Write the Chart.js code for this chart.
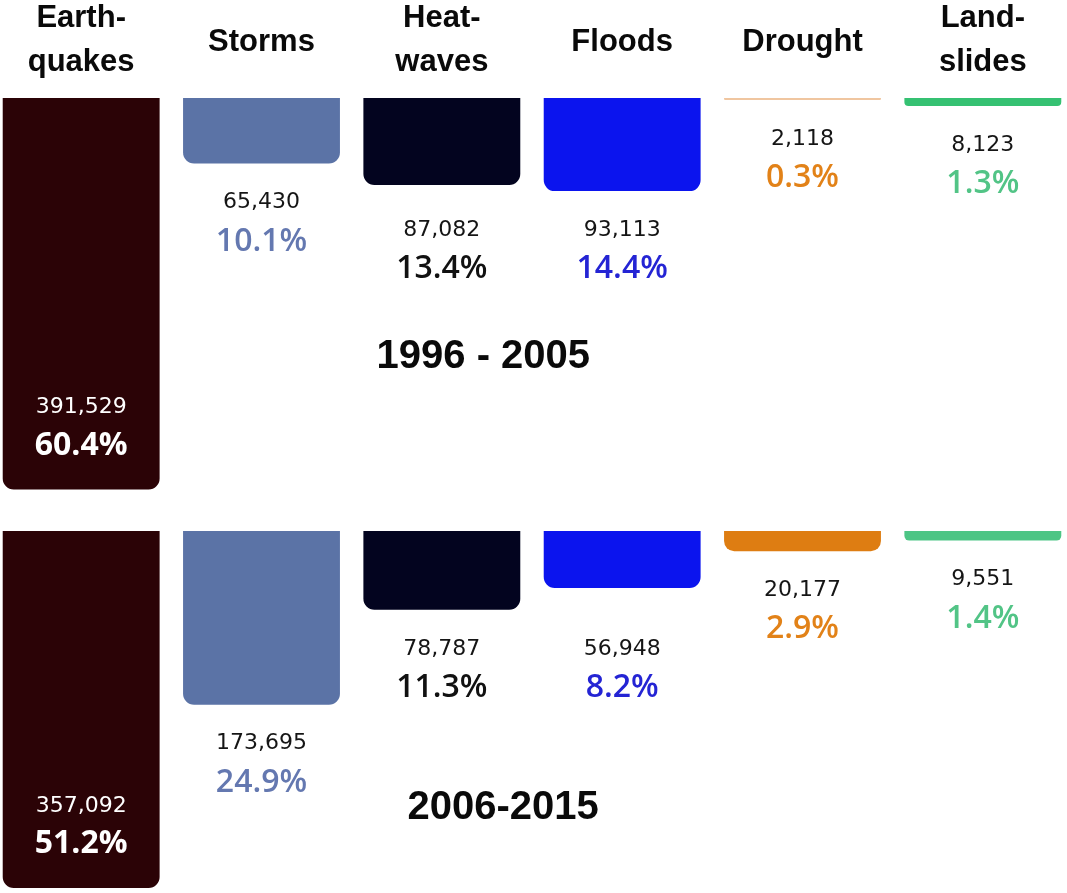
<!DOCTYPE html>
<html>
<head>
<meta charset="utf-8">
<script src="https://cdn.jsdelivr.net/npm/chart.js@4.4.1/dist/chart.umd.min.js"></script>
<style>
  html, body { margin: 0; padding: 0; background: #fff; overflow: hidden; }
  #wrap { position: relative; width: 1067px; height: 893px; overflow: hidden; }
  #deathsChart { position: absolute; left: -9px; top: 0; }
</style>
</head>
<body>
<div id="wrap"><canvas id="deathsChart" width="1082" height="893"></canvas></div>
<script>
/* ===============================
   DATA
================================ */
const hazards = [["Earth-", "quakes"], ["Storms"], ["Heat-", "waves"], ["Floods"], ["Drought"], ["Land-", "slides"]];
const periods = ["1996 - 2005", "2006-2015"];
const deaths1996 = [391529, 65430, 87082, 93113, 2118, 8123];
const deaths2006 = [357092, 173695, 78787, 56948, 20177, 9551];
const share1996 = [60.4, 10.1, 13.4, 14.4, 0.3, 1.3];
const share2006 = [51.2, 24.9, 11.3, 8.2, 2.9, 1.4];

const barColors1996 = ["#2b0306", "#5b73a6", "#03041f", "#0b14ee", "#f0c6a0", "#35c172"];
const barColors2006 = ["#2b0306", "#5b73a6", "#03041f", "#0b14ee", "#de7d12", "#4dc585"];
const pctColors = ["#ffffff", "#6478b0", "#111111", "#2424d4", "#e28218", "#52c486"];

// second row hangs from this point of the deaths axis
const ROW_GAP = 433000;

/* ===============================
   LABELS
================================ */
const labelPlugin = {
  id: "hazardLabels",
  afterDatasetsDraw(chart) {
    const ctx = chart.ctx;
    const xs = chart.scales.x;
    const ys = chart.scales.y;
    ctx.save();
    ctx.textAlign = "center";

    // headers
    ctx.fillStyle = "#0a0a0a";
    ctx.font = "bold 31px 'Liberation Sans', Arial, sans-serif";
    ctx.textBaseline = "alphabetic";
    hazards.forEach((lines, i) => {
      const x = xs.getPixelForValue(i);
      if (lines.length === 2) {
        ctx.fillText(lines[0], x, 27);
        ctx.fillText(lines[1], x, 71);
      } else {
        ctx.fillText(lines[0], x, 51);
      }
    });

    // values + shares
    const shares = [share1996, share2006];
    const values = [deaths1996, deaths2006];
    ctx.textBaseline = "middle";
    chart.data.datasets.forEach((ds, d) => {
      const bars = chart.getDatasetMeta(d).data;
      bars.forEach((bar, i) => {
        const num = values[d][i].toLocaleString("en-US");
        const pct = shares[d][i].toFixed(1) + "%";
        const h = Math.abs(bar.y - bar.base);
        if (h > 200) {
          ctx.fillStyle = "#ffffff";
          ctx.font = "22px 'DejaVu Sans', sans-serif";
          ctx.fillText(num, bar.x, bar.y - 82);
          ctx.font = "bold 32px 'Open Sans', sans-serif";
          ctx.fillText(pct, bar.x, bar.y - 44);
          return;
        }
        let anchor = bar.y;
        if (i === 2 || i === 3) anchor = Math.max(bars[2].y, bars[3].y);
        ctx.fillStyle = "#151515";
        ctx.font = "22px 'DejaVu Sans', sans-serif";
        ctx.fillText(num, bar.x, anchor + 39);
        ctx.fillStyle = pctColors[i];
        ctx.font = "600 32px 'Open Sans', sans-serif";
        ctx.fillText(pct, bar.x, anchor + 78);
      });
    });

    // period titles
    ctx.fillStyle = "#0a0a0a";
    ctx.font = "bold 40px 'Liberation Sans', Arial, sans-serif";
    ctx.fillText(periods[0], xs.getPixelForValue(2.23), ys.getPixelForValue(259000));
    ctx.fillText(periods[1], xs.getPixelForValue(2.34), ys.getPixelForValue(ROW_GAP + 277000));
    ctx.restore();
  }
};

/* ===============================
   CHART
================================ */
const barStyle = {
  grouped: false,
  barPercentage: 0.87,
  categoryPercentage: 1,
  borderRadius: 11,
  borderSkipped: "start"
};

new Chart(document.getElementById("deathsChart"), {
  type: "bar",
  data: {
    labels: hazards,
    datasets: [
      Object.assign({ label: periods[0], data: deaths1996.map(v => [0, v]), backgroundColor: barColors1996 }, barStyle),
      Object.assign({ label: periods[1], data: deaths2006.map(v => [ROW_GAP, ROW_GAP + v]), backgroundColor: barColors2006 }, barStyle)
    ]
  },
  options: {
    responsive: false,
    animation: false,
    layout: { padding: 0 },
    plugins: {
      legend: { display: false },
      tooltip: { enabled: false }
    },
    scales: {
      x: { display: false, offset: true },
      y: { display: false, reverse: true, min: -98000, max: 795000 }
    }
  },
  plugins: [labelPlugin]
});
</script>
</body>
</html>
